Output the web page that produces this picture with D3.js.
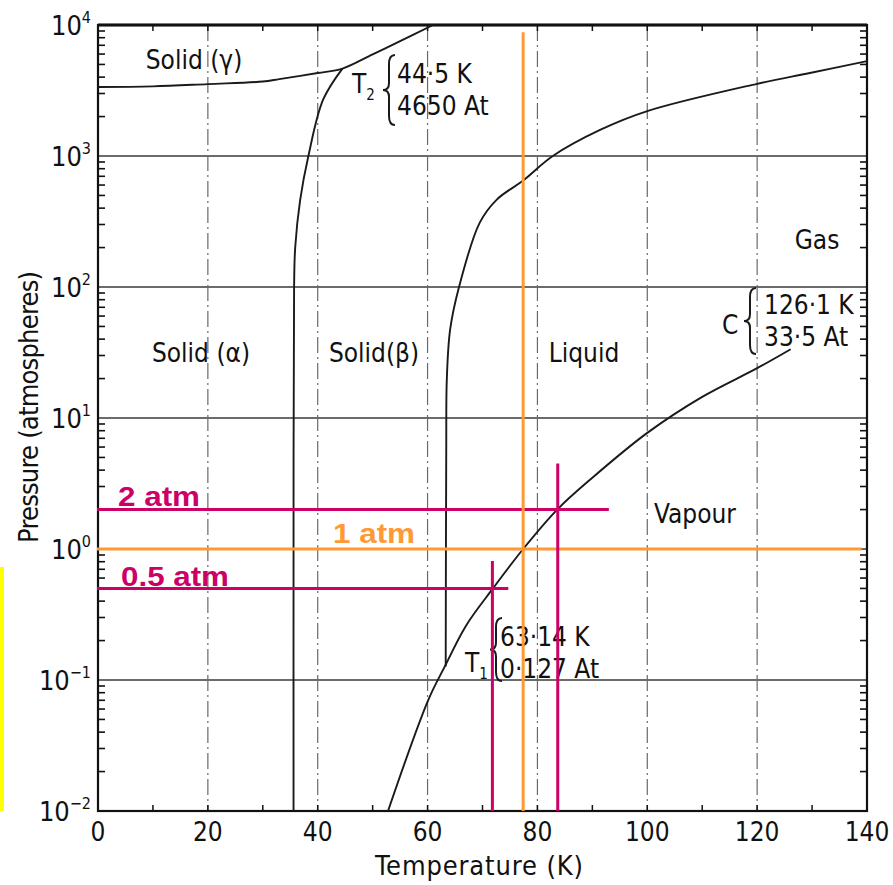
<!DOCTYPE html>
<html>
<head>
<meta charset="utf-8">
<script src="https://cdn.jsdelivr.net/npm/d3@7"></script>
<style>
  body { margin: 0; background: #fff; }
  text { font-family: 'DejaVu Sans Condensed', 'DejaVu Sans', sans-serif; font-stretch: condensed; fill: #111; }
  .hl { font-family: 'Liberation Sans', Arial, sans-serif; font-weight: bold; font-stretch: normal; }
</style>
</head>
<body>
<div id="playground"></div>
<script>
// phase diagram of nitrogen

// axis ticks
var tempTicks = [0, 20, 40, 60, 80, 100, 120, 140];
var pressExps = [-2, -1, 0, 1, 2, 3, 4];

// solid gamma / solid alpha-beta boundary
var gammaT = [0, 10, 20, 30, 33, 40, 44.5, 50, 55, 61];
var gammaP = [3360, 3400, 3540, 3700, 3860, 4300, 4650, 5970, 7530, 10000];

// solid alpha / solid beta boundary
var alphaBetaT = [35.6, 35.6, 35.7, 35.9, 36.8, 38.3, 41, 44.5];
var alphaBetaP = [0.01, 1, 100, 200, 460, 1000, 2700, 4650];

// melting curve, from T1 upward
var meltT = [63.3, 63.4, 63.5, 64.1, 65.7, 69.5, 72.6, 77.4, 82.8, 91.4, 100, 119.8, 129.6, 140];
var meltP = [0.127, 5.7, 19.5, 47, 99, 310, 465, 650, 1000, 1580, 2200, 3540, 4300, 5300];

// sublimation + vapour pressure curve, up to C
var vapT = [52.8, 60.1, 63.14, 67, 71.9, 77.4, 83.6, 90, 100, 110, 120, 126.1];
var vapP = [0.01, 0.07, 0.127, 0.26, 0.5, 1, 2, 3.5, 7.7, 14.5, 24, 33.5];

// marked pressures and the boiling temperatures read at them
var markP = [0.5, 1, 2];
var markT = [71.8, 77.4, 83.7];
var markLabel = ['0.5 atm', '1 atm', '2 atm'];

var W = 893, H = 885;
var svg = d3.select('#playground').append('svg')
  .attr('width', W).attr('height', H);

var x = d3.scaleLinear().domain([0, 140]).range([98, 867]);
var y = d3.scaleLog().domain([0.01, 1e4]).range([811, 25]);

function zip(a, b) { return a.map(function(d, i) { return [d, b[i]]; }); }

var line = d3.line()
  .x(function(d) { return x(d[0]); })
  .y(function(d) { return y(d[1]); })
  .curve(d3.curveCatmullRom.alpha(0.5));

// yellow bar on the far left
svg.append('rect').attr('x', 0).attr('y', y(0.73)).attr('width', 4)
  .attr('height', y(0.01) - y(0.73)).attr('fill', '#ffff00');

// grid
var g = svg.append('g');
g.selectAll('line.hg').data(pressExps.slice(1, -1)).enter().append('line')
  .attr('x1', x(0)).attr('x2', x(140))
  .attr('y1', function(d) { return y(Math.pow(10, d)); })
  .attr('y2', function(d) { return y(Math.pow(10, d)); })
  .attr('stroke', '#3a3a3a').attr('stroke-width', 1.3);
g.selectAll('line.vg').data(tempTicks.slice(1, -1)).enter().append('line')
  .attr('y1', y(1e4)).attr('y2', y(0.01))
  .attr('x1', function(d) { return x(d); }).attr('x2', function(d) { return x(d); })
  .attr('stroke', '#6a6a6a').attr('stroke-width', 1.2)
  .attr('stroke-dasharray', '16,4,2,4');

// minor log ticks on left and right
var minor = [];
pressExps.slice(0, -1).forEach(function(e) {
  for (var k = 2; k <= 9; k++) minor.push(k * Math.pow(10, e));
});
g.selectAll('line.lt').data(minor).enter().append('line')
  .attr('x1', x(0)).attr('x2', x(0) + 7)
  .attr('y1', function(d) { return y(d); }).attr('y2', function(d) { return y(d); })
  .attr('stroke', '#111').attr('stroke-width', 1.6);
g.selectAll('line.rt').data(minor).enter().append('line')
  .attr('x1', x(140)).attr('x2', x(140) - 7)
  .attr('y1', function(d) { return y(d); }).attr('y2', function(d) { return y(d); })
  .attr('stroke', '#111').attr('stroke-width', 1.6);
// small ticks every 10 K top and bottom
g.selectAll('line.bt').data(d3.range(10, 140, 10)).enter().append('line')
  .attr('x1', function(d) { return x(d); }).attr('x2', function(d) { return x(d); })
  .attr('y1', y(0.01)).attr('y2', y(0.01) - 6)
  .attr('stroke', '#111').attr('stroke-width', 1.5);
g.selectAll('line.tt').data(d3.range(10, 140, 10)).enter().append('line')
  .attr('x1', function(d) { return x(d); }).attr('x2', function(d) { return x(d); })
  .attr('y1', y(1e4)).attr('y2', y(1e4) + 6)
  .attr('stroke', '#111').attr('stroke-width', 1.5);

// frame
svg.append('rect').attr('x', x(0)).attr('y', y(1e4))
  .attr('width', x(140) - x(0)).attr('height', y(0.01) - y(1e4))
  .attr('fill', 'none').attr('stroke', '#111').attr('stroke-width', 2.2);
svg.append('line').attr('x1', x(0)).attr('x2', x(140))
  .attr('y1', y(1e4)).attr('y2', y(1e4))
  .attr('stroke', '#111').attr('stroke-width', 3);

// phase boundaries
var curves = [zip(gammaT, gammaP), zip(alphaBetaT, alphaBetaP), zip(meltT, meltP), zip(vapT, vapP)];
svg.selectAll('path.phase').data(curves).enter().append('path')
  .attr('d', line).attr('fill', 'none')
  .attr('stroke', '#1a1a1a').attr('stroke-width', 1.9);

// tick labels
svg.selectAll('text.xt').data(tempTicks).enter().append('text')
  .attr('x', function(d) { return x(d); }).attr('y', 841)
  .attr('text-anchor', 'middle').attr('font-size', 26)
  .text(function(d) { return d; });

var yl = svg.selectAll('text.yt').data(pressExps).enter().append('text')
  .attr('x', 91).attr('y', function(d) { return y(Math.pow(10, d)) + 10; })
  .attr('text-anchor', 'end').attr('font-size', 27);
yl.append('tspan').text('10');
yl.append('tspan').attr('dy', -12).attr('font-size', 16)
  .text(function(d) { return d < 0 ? '\u2212' + (-d) : d; });

svg.append('text').attr('x', 479).attr('y', 875).attr('text-anchor', 'middle')
  .attr('font-size', 27).attr('textLength', 208).text('Temperature (K)');
svg.append('text').attr('transform', 'translate(38,407) rotate(-90)')
  .attr('text-anchor', 'middle').attr('font-size', 27).attr('textLength', 272)
  .text('Pressure (atmospheres)');

// region names
var regions = [
  ['Solid (\u03b3)', 194, 69],
  ['Solid (\u03b1)', 201, 362],
  ['Solid(\u03b2)', 374, 362],
  ['Liquid', 584, 362],
  ['Gas', 817, 249],
  ['Vapour', 695, 523]
];
svg.selectAll('text.reg').data(regions).enter().append('text')
  .attr('x', function(d) { return d[1]; }).attr('y', function(d) { return d[2]; })
  .attr('text-anchor', 'middle').attr('font-size', 26)
  .text(function(d) { return d[0]; });

// braces with point data
function brace(bx, y0, y1) {
  var m = (y0 + y1) / 2, w = 6;
  return 'M' + (bx + w) + ',' + y0 + ' Q' + bx + ',' + y0 + ' ' + bx + ',' + (y0 + 9) +
    ' L' + bx + ',' + (m - 7) + ' Q' + bx + ',' + m + ' ' + (bx - w) + ',' + m +
    ' Q' + bx + ',' + m + ' ' + bx + ',' + (m + 7) +
    ' L' + bx + ',' + (y1 - 9) + ' Q' + bx + ',' + y1 + ' ' + (bx + w) + ',' + y1;
}
var notes = [
  { name: 'T', sub: '2', nx: 352, ny: 93, bx: 389, b0: 55, b1: 125, tx: 397, l1: '44\u00b75 K', l2: '4650 At', y1: 83, y2: 115 },
  { name: 'C', sub: '', nx: 722, ny: 334, bx: 750, b0: 288, b1: 354, tx: 764, l1: '126\u00b71 K', l2: '33\u00b75 At', y1: 314, y2: 346 },
  { name: 'T', sub: '1', nx: 465, ny: 672, bx: 496, b0: 618, b1: 681, tx: 500, l1: '63\u00b714 K', l2: '0\u00b7127 At', y1: 646, y2: 678 }
];
notes.forEach(function(n) {
  var t = svg.append('text').attr('x', n.nx).attr('y', n.ny).attr('font-size', 26);
  t.append('tspan').text(n.name);
  if (n.sub) t.append('tspan').attr('dy', 7).attr('font-size', 15).text(n.sub);
  svg.append('path').attr('d', brace(n.bx, n.b0, n.b1))
    .attr('fill', 'none').attr('stroke', '#1a1a1a').attr('stroke-width', 2);
  svg.append('text').attr('x', n.tx).attr('y', n.y1).attr('font-size', 26).text(n.l1);
  svg.append('text').attr('x', n.tx).attr('y', n.y2).attr('font-size', 26).text(n.l2);
});

// highlight lines
var pink = '#cc0066', orange = '#ff9933';
var hl = svg.append('g');
// horizontal lines at marked pressures
var hEnd = [74.7, 139, 93];
var hColor = [pink, orange, pink];
hl.selectAll('line.h').data(markP).enter().append('line')
  .attr('x1', x(0) - 1).attr('x2', function(d, i) { return x(hEnd[i]); })
  .attr('y1', function(d) { return y(d); }).attr('y2', function(d) { return y(d); })
  .attr('stroke', function(d, i) { return hColor[i]; }).attr('stroke-width', 3);
// vertical lines at boiling temperatures
var vTop = [0.81, 8800, 4.5];
hl.selectAll('line.v').data(markT).enter().append('line')
  .attr('x1', function(d) { return x(d); }).attr('x2', function(d) { return x(d); })
  .attr('y1', function(d, i) { return y(vTop[i]); }).attr('y2', y(0.01))
  .attr('stroke', function(d, i) { return hColor[i]; }).attr('stroke-width', 3);

var labPos = [[121, 586, 108], [333, 543, 82], [118, 506, 82]];
hl.selectAll('text.hl').data(markLabel).enter().append('text')
  .attr('class', 'hl')
  .attr('x', function(d, i) { return labPos[i][0]; })
  .attr('y', function(d, i) { return labPos[i][1]; })
  .attr('textLength', function(d, i) { return labPos[i][2]; })
  .attr('lengthAdjust', 'spacingAndGlyphs')
  .attr('font-size', 27)
  .style('fill', function(d, i) { return hColor[i]; })
  .text(function(d) { return d; });
</script>
</body>
</html>
